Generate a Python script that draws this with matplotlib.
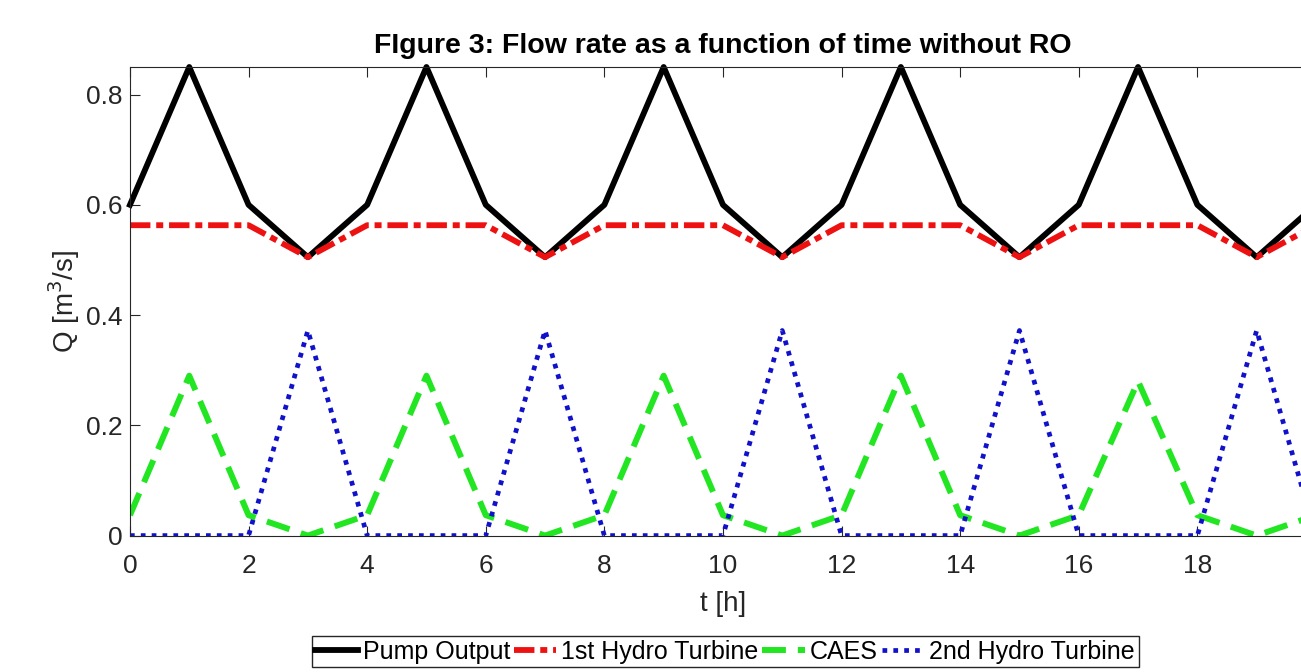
import matplotlib.pyplot as plt
import numpy as np

plt.rcParams['font.family'] = ['Liberation Sans', 'DejaVu Sans']

# hourly samples
t = np.arange(0, 21)
pump = [0.60, 0.85, 0.60, 0.505, 0.60, 0.85, 0.60, 0.505, 0.60, 0.85, 0.60,
        0.505, 0.60, 0.85, 0.60, 0.505, 0.60, 0.85, 0.60, 0.505, 0.60]
hydro1 = [0.563, 0.563, 0.563, 0.505, 0.563, 0.563, 0.563, 0.505, 0.563, 0.563, 0.563,
          0.505, 0.563, 0.563, 0.563, 0.505, 0.563, 0.563, 0.563, 0.505, 0.563]
caes = [0.037, 0.29, 0.037, 0.0, 0.037, 0.29, 0.037, 0.0, 0.037, 0.29, 0.037,
        0.0, 0.037, 0.29, 0.037, 0.0, 0.037, 0.28, 0.037, 0.0, 0.037]
hydro2 = [0.0, 0.0, 0.0, 0.372, 0.0, 0.0, 0.0, 0.372, 0.0, 0.0, 0.0,
          0.372, 0.0, 0.0, 0.0, 0.372, 0.0, 0.0, 0.0, 0.372, 0.0]

fig = plt.figure(figsize=(13.01, 6.72), dpi=100)
# axes runs a little past the right edge, like the cropped original
ax = fig.add_axes([0.0999, 0.2030, 0.9116, 0.6973])

ax.plot(t, pump, color='black', lw=4.2, label='Pump Output', clip_on=False)
ax.plot(t, hydro1, color='#ee1111', lw=4.2, linestyle=(0, (3.5, 1, 1.2, 1)),
        label='1st Hydro Turbine')
ax.plot(t, caes, color='#22e622', lw=4.3, linestyle=(0, (4, 2)), label='CAES')
ax.plot(t, hydro2, color='#1111cc', lw=3.4, linestyle=(0, (1, 1.3)),
        label='2nd Hydro Turbine')

ax.set_xlim(0, 20)
ax.set_ylim(0, 0.85)
ax.set_xticks(np.arange(0, 20, 2))
ax.set_yticks([0, 0.2, 0.4, 0.6, 0.8])
ax.set_yticklabels(['0', '0.2', '0.4', '0.6', '0.8'])
ax.tick_params(direction='in', length=7, width=0.8, top=True, right=True,
               labelsize=19, colors='#262626', labelcolor='#262626')
ax.tick_params(axis='x', pad=13.5)
ax.tick_params(axis='y', pad=5.5)
for s in ax.spines.values():
    s.set_linewidth(0.8)
    s.set_color('#262626')

ax.set_title('FIgure 3: Flow rate as a function of time without RO',
             fontsize=20.5, fontweight='bold', pad=10)
ax.set_xlabel('t [h]', fontsize=20, color='#262626', labelpad=9)
ax.set_ylabel('Q [m$^3$/s]', fontsize=20, color='#262626', labelpad=3)

fig.legend(loc='center', bbox_to_anchor=(0.5573, 0.0305), ncol=4, fontsize=18,
           frameon=True, fancybox=False, edgecolor='#262626', framealpha=1,
           handlelength=1.7, handletextpad=0.2, columnspacing=0.15,
           borderpad=0.15, borderaxespad=0)

fig.savefig('out.png', dpi=100)
